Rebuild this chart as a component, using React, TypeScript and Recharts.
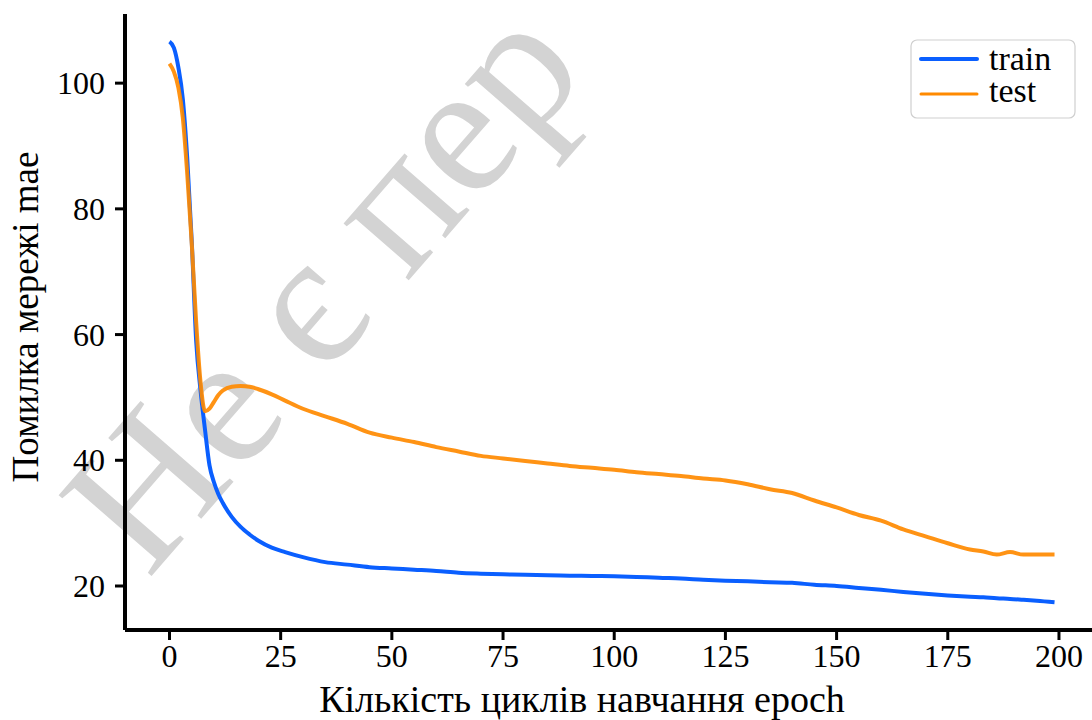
import { Legend, Line, LineChart, XAxis, YAxis } from "recharts";

const epochs = [
  0, 1, 2, 3, 4, 5, 6, 7, 8, 9, 10, 11, 12, 14, 16, 18, 20, 23, 26, 30, 35, 40, 45, 50, 55, 60, 65, 70, 75, 80, 85,
  90, 95, 100, 105, 110, 115, 120, 125, 130, 135, 140, 145, 150, 155, 160, 165, 170, 175, 180, 183, 186, 189, 192,
  195, 199,
];

const trainMae = [
  106.6, 105.6, 102.5, 97.5, 88, 75, 59, 51, 44.8, 39.2, 36.5, 34.6, 33.2, 31.0, 29.4, 28.2, 27.2, 26.1, 25.4, 24.6,
  23.8, 23.4, 23.0, 22.8, 22.6, 22.4, 22.1, 21.95, 21.85, 21.8, 21.7, 21.65, 21.6, 21.55, 21.45, 21.3, 21.2, 21.0,
  20.85, 20.75, 20.6, 20.5, 20.2, 20.0, 19.7, 19.4, 19.05, 18.75, 18.5, 18.3, 18.2, 18.05, 17.95, 17.8, 17.65, 17.4,
];

const testMae = [
  103.1, 101.8, 99.3, 94.5, 85.5, 74.6, 62, 52.3, 47.8, 48.2, 49.3, 50.4, 51.1, 51.7, 51.8, 51.7, 51.3, 50.5, 49.5,
  48.2, 47.0, 45.8, 44.4, 43.6, 42.9, 42.1, 41.4, 40.7, 40.3, 39.9, 39.5, 39.1, 38.8, 38.5, 38.1, 37.8, 37.5, 37.1,
  36.8, 36.2, 35.4, 34.8, 33.6, 32.5, 31.3, 30.4, 29.0, 27.9, 26.8, 25.8, 25.5, 25.0, 25.4, 25.0, 25.0, 25.0,
];

const seriesNames = ["train", "test"];
const xTicks = [0, 25, 50, 75, 100, 125, 150, 175, 200];
const yTicks = [20, 40, 60, 80, 100];

const data = epochs.map((epoch, i) => ({ epoch, train: trainMae[i], test: testMae[i] }));

const FONT = "Liberation Serif, DejaVu Serif";
const TRAIN = "#0a5fff";
const TEST = "#ff8a00";
const colors = [TRAIN, TEST];

function LegendBox() {
  return (
    <svg width={166} height={80} style={{ display: "block" }}>
      <rect x={1} y={1} width={164} height={78} rx={6} fill="#fff" stroke="#cfcfcf" strokeWidth={1.2} />
      {seriesNames.map((name, i) => (
        <g key={name}>
          <line
            x1={11}
            x2={67}
            y1={20 + i * 35}
            y2={20 + i * 35}
            stroke={colors[i]}
            strokeWidth={i === 0 ? 4 : 3}
            strokeLinecap="round"
          />
          <text x={79} y={31 + i * 32} fontFamily={FONT} fontSize={34} fill="#000">
            {name}
          </text>
        </g>
      ))}
    </svg>
  );
}

function XTick({ x, y, payload }: { x?: number; y?: number; payload?: { value: number } }) {
  return (
    <text x={x} y={(y ?? 0) + 23} textAnchor="middle" fontFamily={FONT} fontSize={32} fill="#000">
      {payload?.value}
    </text>
  );
}

function YTick({ x, y, payload }: { x?: number; y?: number; payload?: { value: number } }) {
  return (
    <text x={x} y={(y ?? 0) + 11} textAnchor="end" fontFamily={FONT} fontSize={32} fill="#000">
      {payload?.value}
    </text>
  );
}

export default function App() {
  return (
    <div style={{ position: "fixed", left: 0, top: 0, width: 1092, height: 720, overflow: "hidden", background: "#fff" }}>
      <svg width={1092} height={720} style={{ position: "absolute", left: 0, top: 0 }}>
        <text x={148} y={580} transform="rotate(-49 148 580)" fontFamily={FONT} fontSize={188} fill="#d3d3d3">
          Не є пер
        </text>
      </svg>
      <div style={{ position: "absolute", left: 0, top: 0 }}>
        <LineChart width={1130} height={720} data={data} margin={{ top: 14, right: 31, left: 60, bottom: 20 }}>
          <XAxis
            xAxisId="top"
            orientation="top"
            dataKey="epoch"
            type="number"
            domain={[-10, 209]}
            height={0}
            tick={false}
            tickLine={false}
            axisLine={{ stroke: "#000", strokeWidth: 4 }}
          />
          <XAxis
            dataKey="epoch"
            type="number"
            domain={[-10, 209]}
            ticks={xTicks}
            allowDataOverflow
            height={70}
            tickSize={10}
            tickMargin={4}
            axisLine={{ stroke: "#000", strokeWidth: 4 }}
            tickLine={{ stroke: "#000", strokeWidth: 3 }}
            tick={<XTick />}
            label={{
              content: () => (
                <text x={582} y={712} textAnchor="middle" fontFamily={FONT} fontSize={38} fill="#000">
                  Кількість циклів навчання epoch
                </text>
              ),
            }}
          />
          <YAxis
            type="number"
            domain={[13, 111]}
            ticks={yTicks}
            allowDataOverflow
            width={65}
            tickSize={10}
            tickMargin={10}
            axisLine={{ stroke: "#000", strokeWidth: 4 }}
            tickLine={{ stroke: "#000", strokeWidth: 3 }}
            tick={<YTick />}
            label={{
              content: () => (
                <text
                  x={38}
                  y={317}
                  transform="rotate(-90 38 317)"
                  textAnchor="middle"
                  fontFamily={FONT}
                  fontSize={37}
                  fill="#000"
                >
                  Помилка мережі mae
                </text>
              ),
            }}
          />
          <Legend
            layout="horizontal"
            verticalAlign="middle"
            align="center"
            content={() => <LegendBox />}
            wrapperStyle={{ position: "absolute", left: 910, top: 39, width: 166, height: 80 }}
          />
          <Line
            type="monotone"
            dataKey="train"
            name="train"
            stroke={TRAIN}
            strokeWidth={4}
            dot={false}
            activeDot={false}
            isAnimationActive={false}
          />
          <Line
            type="monotone"
            dataKey="test"
            name="test"
            stroke={TEST}
            strokeWidth={4}
            strokeOpacity={0.92}
            dot={false}
            activeDot={false}
            isAnimationActive={false}
          />
        </LineChart>
      </div>
    </div>
  );
}
